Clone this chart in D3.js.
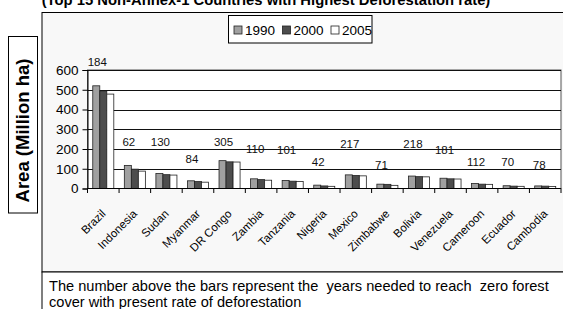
<!DOCTYPE html>
<html>
<head>
<meta charset="utf-8">
<script src="https://cdn.jsdelivr.net/npm/d3@7"></script>
<style>
  html, body { margin: 0; padding: 0; background: #fff; }
  svg { display: block; font-family: "Liberation Sans", Arial, sans-serif; }
</style>
</head>
<body>
<svg id="chart" width="563" height="309"></svg>
<script>
// ---- data ----
const countries = ["Brazil", "Indonesia", "Sudan", "Myanmar", "DR Congo", "Zambia", "Tanzania",
  "Nigeria", "Mexico", "Zimbabwe", "Bolivia", "Venezuela", "Cameroon", "Ecuador", "Cambodia"];
const years = ["1990", "2000", "2005"];
const area1990 = [520, 117, 76, 39, 141, 49, 41, 17, 69, 22, 63, 52, 25, 14, 13];
const area2000 = [493, 98, 70, 35, 135, 45, 37, 13, 66, 21, 60, 49, 22, 12, 12];
const area2005 = [478, 88, 68, 32, 134, 42, 35, 11, 64, 16, 59, 48, 21, 11, 10];
const yearsToZero = [184, 62, 130, 84, 305, 110, 101, 42, 217, 71, 218, 181, 112, 70, 78];
const labelLevel = [640, 235, 235, 148, 235, 199, 196, 133, 225, 119, 225, 196, 135, 135, 121];
const yTicks = [0, 100, 200, 300, 400, 500, 600];
const titleText = "(Top 15 Non-Annex-1 Countries with Highest Deforestation rate)";
const yTitle = "Area (Million ha)";
const noteLines = ["The number above the bars represent the  years needed to reach  zero forest",
  "cover with present rate of deforestation"];
const seriesColors = ["#a0a0a0", "#4d4d4d", "#ffffff"];
const series = [area1990, area2000, area2005];

// ---- layout ----
const svg = d3.select("#chart");
const plot = { left: 87.5, right: 561, top: 70, bottom: 188.5 };

// chart area box
svg.append("rect").attr("x", 42).attr("y", 12.5).attr("width", 540).attr("height", 259.5)
  .attr("fill", "#f8f8f8").attr("stroke", "#000").attr("stroke-width", 1);
// note box
svg.append("rect").attr("x", 42).attr("y", 272).attr("width", 540).attr("height", 60)
  .attr("fill", "#fff").attr("stroke", "#000").attr("stroke-width", 1);
noteLines.forEach((t, i) => {
  svg.append("text").attr("x", 49).attr("y", 290.5 + i * 16.5)
    .attr("font-size", 14.6).attr("fill", "#000")
    .style("white-space", "pre").attr("xml:space", "preserve").text(t);
});

// title (cropped at top, as in the source image)
svg.append("text").attr("x", 266).attr("y", 4.5).attr("text-anchor", "middle")
  .attr("font-size", 14.8).attr("font-weight", "bold").text(titleText);

// y-axis title box
svg.append("rect").attr("x", 8.5).attr("y", 36.5).attr("width", 29).attr("height", 176.5)
  .attr("fill", "#fff").attr("stroke", "#000").attr("stroke-width", 1);
svg.append("text").attr("transform", "translate(23,130.5) rotate(-90)")
  .attr("text-anchor", "middle").attr("dy", "0.35em")
  .attr("font-size", 18.5).attr("font-weight", "bold").text(yTitle);

// plot area
svg.append("rect").attr("x", plot.left).attr("y", plot.top)
  .attr("width", plot.right - plot.left).attr("height", plot.bottom - plot.top)
  .attr("fill", "#fff").attr("stroke", "#555").attr("stroke-width", 1);

const x = d3.scaleBand().domain(countries).range([plot.left, plot.right]).paddingInner(0).paddingOuter(0);
const bw = x.bandwidth();
const xs = d3.scaleBand().domain(years).range([bw / 6, bw - bw / 6]).padding(0);
const y = d3.scaleLinear().domain([0, 600]).range([plot.bottom, plot.top]);

// gridlines
svg.append("g").selectAll("line").data(yTicks.filter(d => d > 0)).join("line")
  .attr("x1", plot.left).attr("x2", plot.right)
  .attr("y1", d => Math.round(y(d)) + 0.5).attr("y2", d => Math.round(y(d)) + 0.5)
  .attr("stroke", "#111").attr("stroke-width", 1);

// bars
const bars = svg.append("g");
series.forEach((vals, si) => {
  bars.selectAll(null).data(countries).join("rect")
    .attr("x", d => x(d) + xs(years[si]))
    .attr("y", (d, i) => y(vals[i]))
    .attr("width", xs.bandwidth())
    .attr("height", (d, i) => y(0) - y(vals[i]))
    .attr("fill", seriesColors[si]).attr("stroke", "#222").attr("stroke-width", 0.8);
});

// y axis
const yAxis = d3.axisLeft(y).tickValues(yTicks).tickSize(5).tickPadding(4);
const ga = svg.append("g").attr("transform", `translate(${plot.left},0)`).call(yAxis);
ga.select(".domain").attr("stroke", "#000");
ga.selectAll(".tick line").attr("stroke", "#000");
ga.selectAll(".tick text").attr("font-size", 13.5).attr("fill", "#000")
  .attr("font-family", "Liberation Sans, Arial, sans-serif");

// x axis line and ticks at band boundaries
const gx = svg.append("g");
gx.append("line").attr("x1", plot.left).attr("x2", plot.right)
  .attr("y1", plot.bottom).attr("y2", plot.bottom).attr("stroke", "#000");
const bounds = countries.map(c => x(c)).concat([plot.right]);
gx.selectAll("line.t").data(bounds).join("line").attr("class", "t")
  .attr("x1", d => d).attr("x2", d => d).attr("y1", plot.bottom).attr("y2", plot.bottom + 4.5)
  .attr("stroke", "#000");
gx.selectAll("text").data(countries).join("text")
  .attr("transform", d => `translate(${x(d) + bw / 2 + 3},${plot.bottom + 26}) rotate(-45)`)
  .attr("text-anchor", "end").attr("font-size", 11.5).attr("fill", "#000").text(d => d);

// year labels above bars
svg.append("g").selectAll("text").data(countries).join("text")
  .attr("x", d => x(d) + bw / 2 - 6)
  .attr("y", (d, i) => y(labelLevel[i]))
  .attr("dy", "0.35em").attr("text-anchor", "middle")
  .attr("font-size", 11.5).attr("fill", "#111").text((d, i) => yearsToZero[i]);

// legend
const lg = svg.append("g");
lg.append("rect").attr("x", 228.5).attr("y", 15.5).attr("width", 143.5).attr("height", 27.5)
  .attr("fill", "#fff").attr("stroke", "#000");
const lx = d3.scalePoint().domain(years).range([234, 331]);
years.forEach((yr, i) => {
  lg.append("rect").attr("x", lx(yr)).attr("y", 26).attr("width", 8).attr("height", 8)
    .attr("fill", seriesColors[i]).attr("stroke", "#222").attr("stroke-width", 0.8);
  lg.append("text").attr("x", lx(yr) + 11).attr("y", 30).attr("dy", "0.35em")
    .attr("font-size", 13.5).attr("fill", "#000").text(yr);
});
</script>
</body>
</html>
